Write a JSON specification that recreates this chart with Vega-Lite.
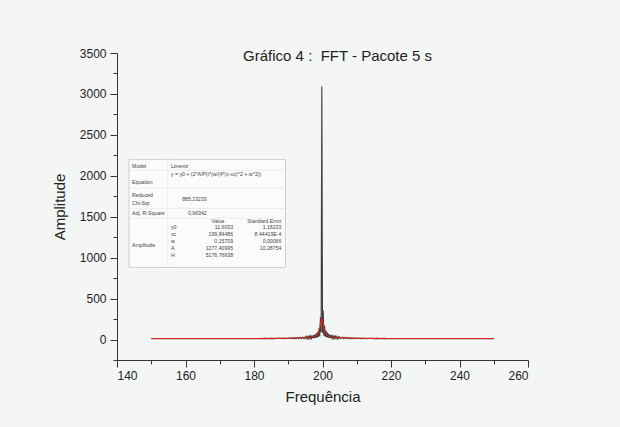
{
  "$schema": "https://vega.github.io/schema/vega-lite/v6.json",
  "width": 411,
  "height": 307,
  "autosize": "none",
  "padding": {"left": 117, "top": 53, "right": 92, "bottom": 67},
  "background": "#f4f6f6",
  "config": {
    "view": {"stroke": null},
    "font": "Liberation Sans",
    "axis": {"domainColor": "#333", "tickColor": "#333", "labelColor": "#222", "titleColor": "#222", "labelFont": "Liberation Sans", "titleFont": "Liberation Sans", "titleFontWeight": "normal", "grid": false}
  },
  "datasets": {
    "fft": [
      {"f":150,"a":10},{"f":151,"a":13},{"f":152,"a":9},{"f":153,"a":12},{"f":154,"a":9},{"f":155,"a":12},{"f":156,"a":9},{"f":157,"a":12},{"f":158,"a":9},{"f":159,"a":12},
      {"f":160,"a":9},{"f":161,"a":12},{"f":162,"a":9},{"f":163,"a":12},{"f":164,"a":9},{"f":165,"a":12},{"f":166,"a":9},{"f":167,"a":12},{"f":168,"a":9},{"f":169,"a":12},
      {"f":170,"a":9},{"f":171,"a":12},{"f":172,"a":9},{"f":173,"a":12},{"f":174,"a":9},{"f":175,"a":13},{"f":176,"a":9},{"f":177,"a":13},{"f":178,"a":9},{"f":179,"a":13},
      {"f":180,"a":9},{"f":181,"a":13},{"f":182,"a":9},{"f":183,"a":14},{"f":184,"a":9},{"f":185,"a":14},{"f":186,"a":9},{"f":187,"a":15},
      {"f":187.8,"a":16},{"f":188.2,"a":10},{"f":188.6,"a":17},{"f":189.0,"a":10},{"f":189.4,"a":18},{"f":189.8,"a":10},{"f":190.2,"a":20},{"f":190.6,"a":10},{"f":191.0,"a":22},{"f":191.4,"a":10},
      {"f":191.8,"a":24},{"f":192.2,"a":10},{"f":192.6,"a":26},{"f":193.0,"a":11},{"f":193.4,"a":28},{"f":193.8,"a":11},{"f":194.2,"a":30},{"f":194.6,"a":12},{"f":195.0,"a":33},{"f":195.2,"a":12},
      {"f":195.4,"a":35},{"f":195.6,"a":13},{"f":195.8,"a":37},{"f":196.0,"a":13},{"f":196.2,"a":40},{"f":196.4,"a":14},{"f":196.6,"a":43},{"f":196.8,"a":15},{"f":197.0,"a":48},{"f":197.2,"a":16},
      {"f":197.4,"a":54},{"f":197.6,"a":18},{"f":197.8,"a":62},{"f":198.0,"a":20},{"f":198.2,"a":75},{"f":198.4,"a":25},{"f":198.6,"a":95},{"f":198.8,"a":30},{"f":199.0,"a":140},{"f":199.2,"a":40},
      {"f":199.4,"a":273},{"f":199.6,"a":90},{"f":199.8,"a":3090},{"f":200.0,"a":80},{"f":200.2,"a":355},{"f":200.4,"a":45},{"f":200.6,"a":170},{"f":200.8,"a":35},{"f":201.0,"a":110},{"f":201.2,"a":28},
      {"f":201.4,"a":85},{"f":201.6,"a":22},{"f":201.8,"a":68},{"f":202.0,"a":20},{"f":202.2,"a":58},{"f":202.4,"a":18},{"f":202.6,"a":50},{"f":202.8,"a":16},{"f":203.0,"a":45},{"f":203.2,"a":15},
      {"f":203.4,"a":41},{"f":203.6,"a":14},{"f":203.8,"a":38},{"f":204.0,"a":13},{"f":204.2,"a":35},{"f":204.4,"a":13},{"f":204.6,"a":33},{"f":204.8,"a":12},{"f":205.0,"a":31},{"f":205.4,"a":12},
      {"f":205.8,"a":29},{"f":206.2,"a":11},{"f":206.6,"a":27},{"f":207.0,"a":11},{"f":207.4,"a":25},{"f":207.8,"a":10},{"f":208.2,"a":23},{"f":208.6,"a":10},{"f":209.0,"a":21},{"f":209.4,"a":10},
      {"f":209.8,"a":19},{"f":210.2,"a":10},{"f":210.6,"a":18},{"f":211.0,"a":10},{"f":211.4,"a":17},{"f":211.8,"a":10},{"f":212.2,"a":16},
      {"f":213,"a":9},{"f":214,"a":15},{"f":215,"a":9},{"f":216,"a":14},{"f":217,"a":9},{"f":218,"a":14},{"f":219,"a":9},{"f":220,"a":13},{"f":221,"a":9},{"f":222,"a":13},
      {"f":223,"a":9},{"f":224,"a":13},{"f":225,"a":9},{"f":226,"a":12},{"f":227,"a":9},{"f":228,"a":12},{"f":229,"a":9},{"f":230,"a":12},{"f":231,"a":9},{"f":232,"a":12},
      {"f":233,"a":9},{"f":234,"a":12},{"f":235,"a":9},{"f":236,"a":12},{"f":237,"a":9},{"f":238,"a":12},{"f":239,"a":9},{"f":240,"a":12},{"f":241,"a":9},{"f":242,"a":12},
      {"f":243,"a":9},{"f":244,"a":12},{"f":245,"a":9},{"f":246,"a":12},{"f":247,"a":9},{"f":248,"a":12},{"f":249,"a":9},{"f":250,"a":11}
    ],
    "fit": [
      {"f":150,"a":11.8},{"f":160,"a":12},{"f":170,"a":12.3},{"f":180,"a":13},{"f":185,"a":14},{"f":188,"a":15.5},{"f":190,"a":16.5},{"f":192,"a":18},{"f":194,"a":21},{"f":195,"a":23},
      {"f":196,"a":27},{"f":197,"a":33},{"f":197.6,"a":39},{"f":198,"a":46},{"f":198.4,"a":58},{"f":198.8,"a":80},{"f":199.0,"a":100},{"f":199.2,"a":135},{"f":199.4,"a":185},{"f":199.6,"a":235},
      {"f":199.8,"a":255},{"f":200.0,"a":235},{"f":200.2,"a":185},{"f":200.4,"a":135},{"f":200.6,"a":100},{"f":200.8,"a":80},{"f":201.2,"a":58},{"f":201.6,"a":46},{"f":202,"a":39},{"f":202.6,"a":33},
      {"f":203.6,"a":27},{"f":204.6,"a":23},{"f":205.6,"a":21},{"f":207.6,"a":18},{"f":209.6,"a":16.5},{"f":211.6,"a":15.5},{"f":214.6,"a":14},{"f":219.6,"a":13},{"f":229.6,"a":12.3},{"f":239.6,"a":12},{"f":250,"a":11.8}
    ],
    "box": [{"f1":143.5,"f2":189.2,"a1":880,"a2":2198}],
    "seps": [
      {"f1":154.8,"f2":154.8,"a1":880,"a2":2198},
      {"f1":143.5,"f2":189.2,"a1":2069,"a2":2069},
      {"f1":143.5,"f2":189.2,"a1":1848,"a2":1848},
      {"f1":143.5,"f2":189.2,"a1":1602,"a2":1602},
      {"f1":143.5,"f2":189.2,"a1":1484,"a2":1484}
    ],
    "tbl": [
      {"t":"Model","f":144.4,"a":2121,"g":"L"},
      {"t":"Equation","f":144.4,"a":1929,"g":"L"},
      {"t":"Reduced","f":144.4,"a":1760,"g":"L"},
      {"t":"Chi-Sqr","f":144.4,"a":1672,"g":"L"},
      {"t":"Adj. R-Square","f":144.4,"a":1545,"g":"L"},
      {"t":"Amplitude","f":144.4,"a":1159,"g":"L"},
      {"t":"Lorentz","f":155.75,"a":2121,"g":"L"},
      {"t":"y = y0 + (2*A/PI)*(w/(4*(x-xc)^2 + w^2))","f":155.75,"a":2016,"g":"L"},
      {"t":"y0","f":155.75,"a":1370,"g":"L"},
      {"t":"xc","f":155.75,"a":1285,"g":"L"},
      {"t":"w","f":155.75,"a":1199,"g":"L"},
      {"t":"A","f":155.75,"a":1114,"g":"L"},
      {"t":"H","f":155.75,"a":1028,"g":"L"},
      {"t":"Value","f":169.5,"a":1447,"g":"C"},
      {"t":"885,23233","f":166.2,"a":1717,"g":"R"},
      {"t":"0,96342","f":166.2,"a":1545,"g":"R"},
      {"t":"Standard Error","f":188.0,"a":1447,"g":"R"},
      {"t":"11,6033","f":173.9,"a":1370,"g":"R"},
      {"t":"199,84486","f":173.9,"a":1285,"g":"R"},
      {"t":"0,15709","f":173.9,"a":1199,"g":"R"},
      {"t":"1277,40995","f":173.9,"a":1114,"g":"R"},
      {"t":"5176,76638","f":173.9,"a":1028,"g":"R"},
      {"t":"1,18233","f":188.0,"a":1370,"g":"R"},
      {"t":"8,44419E-4","f":188.0,"a":1285,"g":"R"},
      {"t":"0,00066","f":188.0,"a":1199,"g":"R"},
      {"t":"10,28754","f":188.0,"a":1114,"g":"R"}
    ],
    "ttl": [{"t":"Gráfico 4 : \u00a0FFT - Pacote 5 s","f":204.4,"a":3462}]
  },
  "encoding": {
    "x": {
      "field": "f", "type": "quantitative",
      "scale": {"domain": [140, 260], "nice": false, "zero": false},
      "axis": {
        "title": "Frequência", "titleFontSize": 15, "titlePadding": 8,
        "values": [140,150,160,170,180,190,200,210,220,230,240,250,260],
        "labelExpr": "datum.value % 20 === 0 ? datum.label : ''",
        "labelFontSize": 12, "labelPadding": 3,
        "tickSize": {"condition": {"test": "datum.value % 20 === 0", "value": 7}, "value": 4}
      }
    },
    "y": {
      "field": "a", "type": "quantitative",
      "scale": {"domain": [-250, 3500], "nice": false, "zero": false},
      "axis": {
        "title": "Amplitude", "titleFontSize": 15, "titlePadding": 12,
        "values": [-250,0,250,500,750,1000,1250,1500,1750,2000,2250,2500,2750,3000,3250,3500],
        "labelExpr": "datum.value % 500 === 0 ? datum.label : ''",
        "labelFontSize": 12, "labelPadding": 4, "format": "d",
        "tickSize": {"condition": {"test": "datum.value % 500 === 0", "value": 7}, "value": 4}
      }
    }
  },
  "layer": [
    {
      "data": {"name": "box"},
      "mark": {"type": "rect", "fill": "#fbfbfb", "stroke": "#c4c4c4", "strokeWidth": 0.8},
      "encoding": {"x": {"field": "f1", "type": "quantitative"}, "x2": {"field": "f2"}, "y": {"field": "a1", "type": "quantitative"}, "y2": {"field": "a2"}}
    },
    {
      "data": {"name": "seps"},
      "mark": {"type": "rule", "stroke": "#e2e2e2", "strokeWidth": 0.6},
      "encoding": {"x": {"field": "f1", "type": "quantitative"}, "x2": {"field": "f2"}, "y": {"field": "a1", "type": "quantitative"}, "y2": {"field": "a2"}}
    },
    {
      "data": {"name": "fft"},
      "mark": {"type": "line", "stroke": "#3a3a3a", "strokeWidth": 1.1}
    },
    {
      "data": {"name": "fit"},
      "mark": {"type": "line", "stroke": "#e0201c", "strokeWidth": 1.1}
    },
    {
      "data": {"name": "tbl"},
      "transform": [{"filter": "datum.g === 'L'"}],
      "mark": {"type": "text", "align": "left", "baseline": "middle", "fontSize": 5.2, "fill": "#444"},
      "encoding": {"text": {"field": "t"}}
    },
    {
      "data": {"name": "tbl"},
      "transform": [{"filter": "datum.g === 'R'"}],
      "mark": {"type": "text", "align": "right", "baseline": "middle", "fontSize": 5.2, "fill": "#444"},
      "encoding": {"text": {"field": "t"}}
    },
    {
      "data": {"name": "tbl"},
      "transform": [{"filter": "datum.g === 'C'"}],
      "mark": {"type": "text", "align": "center", "baseline": "middle", "fontSize": 5.2, "fill": "#444"},
      "encoding": {"text": {"field": "t"}}
    },
    {
      "data": {"name": "ttl"},
      "mark": {"type": "text", "align": "center", "baseline": "middle", "fontSize": 15, "fill": "#222"},
      "encoding": {"text": {"field": "t"}}
    }
  ]
}
